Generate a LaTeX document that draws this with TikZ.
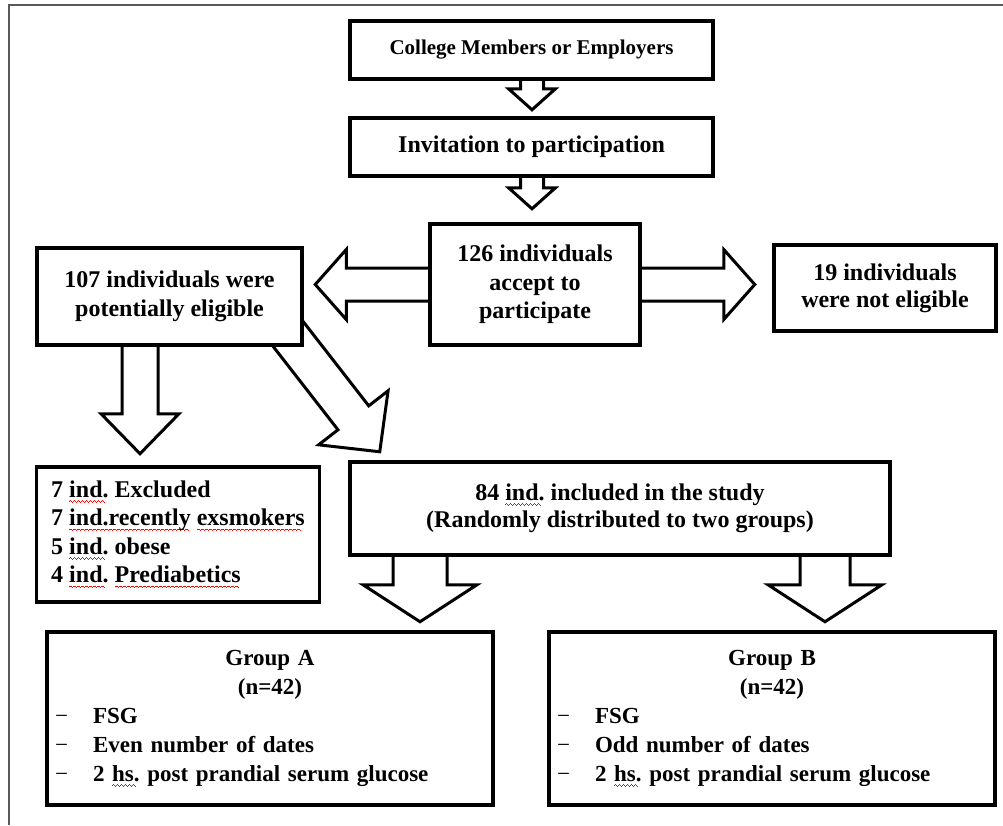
\documentclass[tikz,border=0pt]{standalone}
\usepackage{fontspec}
\setmainfont{Liberation Serif}
\usetikzlibrary{calc}
\pgfdeclarelayer{bg}
\pgfsetlayers{bg,main}
\newsavebox\wavebox
\newcommand\rw[1]{\setbox0\hbox{#1}\rlap{\lower4.5pt\hbox to \wd0{\leaders\copy\wavebox\hfil}}\box0\relax}
\newcommand\itemdash{\makebox[38pt][l]{\mdseries\char"2212}}
\newcommand\blockarrow[5]{%
  \coordinate (tmpB) at ($(#2)!#5!(#1)$);
  \draw[blk] ($(#1)!#3!90:(#2)$) -- ($(tmpB)!#3!90:(#2)$) -- ($(tmpB)!#4!90:(#2)$) -- (#2)
    -- ($(tmpB)!#4!-90:(#2)$) -- ($(tmpB)!#3!-90:(#2)$) -- ($(#1)!#3!-90:(#2)$) -- cycle;}
\tikzset{
  box/.style={draw, line width=3.5pt, fill=white, inner sep=0pt, align=center,
    font=\bfseries\fontsize{24}{28.5}\selectfont},
  grp/.style={box, minimum height=173pt, text width=430pt, inner xsep=8pt, align=left,
    font=\bfseries\fontsize{23}{29}\selectfont},
  blk/.style={draw, fill=white, line width=3pt, line join=miter},
  frame/.style={draw=black!65, line width=1.3pt}
}
\begin{document}
\sbox\wavebox{\color{red}\rule[0pt]{1pt}{0.9pt}\rule[0.9pt]{1pt}{0.9pt}\rule[0pt]{1pt}{0.9pt}\rule[-0.9pt]{1pt}{0.9pt}}%
\begin{tikzpicture}[x=1pt,y=-1pt]
\useasboundingbox (0,0) rectangle (1003,825);

\node[box, minimum width=363pt, minimum height=58pt, font=\bfseries\fontsize{21}{25}\selectfont] (b1) at (531.5,50) {College Members or Employers};
\node[box, minimum width=363pt, minimum height=58pt] (b2) at (531.5,147) {Invitation to participation};
\node[box, minimum width=210pt, minimum height=121pt] (b3) at (535,284.5) {126 individuals\\accept to\\participate};
\node[box, minimum width=265pt, minimum height=97pt] (b4) at (169.5,296.5) {107 individuals were\\potentially eligible};
\node[box, minimum width=222pt, minimum height=86pt, font=\bfseries\fontsize{24}{27}\selectfont] (b5) at (885,288) {19 individuals\\were not eligible};
\node[box, minimum width=283pt, minimum height=135pt, align=left] (b6) at (178,534.5) {7 \rw{ind.} Excluded\\7 \rw{ind.recently} \rw{exsmokers}\\5 \rw{ind.} obese\\4 \rw{ind.} \rw{Prediabetics}};
\node[box, minimum width=540pt, minimum height=93pt, font=\bfseries\fontsize{24}{27.5}\selectfont] (b7) at (620,508.5) {84 \rw{ind.} included in the study\\(Randomly distributed to two groups)};
\node[grp] (b8) at (270,718.5) {\makebox[430pt]{Group A}\\\makebox[430pt]{(n=42)}\\\itemdash FSG\\\itemdash Even number of dates\\\itemdash 2 \rw{hs.} post prandial serum glucose};
\node[grp] (b9) at (772,718.5) {\makebox[430pt]{Group B}\\\makebox[430pt]{(n=42)}\\\itemdash FSG\\\itemdash Odd number of dates\\\itemdash 2 \rw{hs.} post prandial serum glucose};

\begin{pgfonlayer}{bg}
\fill[white] (0,0) rectangle (1003,825);
\draw[frame] (9,825) -- (9,5) -- (1003,5);
\coordinate (a1s) at ($(b1.south)+(0.5,-9)$);
\coordinate (a1t) at ($(b1.south)+(0.5,29)$);
\coordinate (a2s) at ($(b2.south)+(0.5,-8)$);
\coordinate (a2t) at ($(b2.south)+(0.5,31)$);
\coordinate (a3s) at ($(b3.west)+(10,0)$);
\coordinate (a3t) at ($(b3.west)+(-113,0)$);
\coordinate (a4s) at ($(b3.east)+(-10,0)$);
\coordinate (a4t) at ($(b3.east)+(113,0)$);
\coordinate (a5s) at ($(b4.south)+(-29.5,-10)$);
\coordinate (a5t) at ($(b4.south)+(-29.5,107)$);
\coordinate (a6s) at ($(b4.south east)+(-22,-21)$);
\coordinate (a6t) at ($(b4.south east)+(76,105)$);
\coordinate (a7s) at ($(b7.south)+(-200,-10)$);
\coordinate (a7t) at ($(b7.south)+(-200,65)$);
\coordinate (a8s) at ($(b7.south)+(205,-10)$);
\coordinate (a8t) at ($(b7.south)+(205,65)$);
\blockarrow{a1s}{a1t}{11.5pt}{23.5pt}{21pt}
\blockarrow{a2s}{a2t}{11.5pt}{23.5pt}{21pt}
\blockarrow{a3s}{a3t}{16.5pt}{35pt}{31pt}
\blockarrow{a4s}{a4t}{16.5pt}{35pt}{31pt}
\blockarrow{a5s}{a5t}{18pt}{39pt}{40pt}
\blockarrow{a6s}{a6t}{19.5pt}{44pt}{43pt}
\blockarrow{a7s}{a7t}{27pt}{57pt}{37pt}
\blockarrow{a8s}{a8t}{25pt}{57pt}{37pt}
\end{pgfonlayer}
\end{tikzpicture}
\end{document}
